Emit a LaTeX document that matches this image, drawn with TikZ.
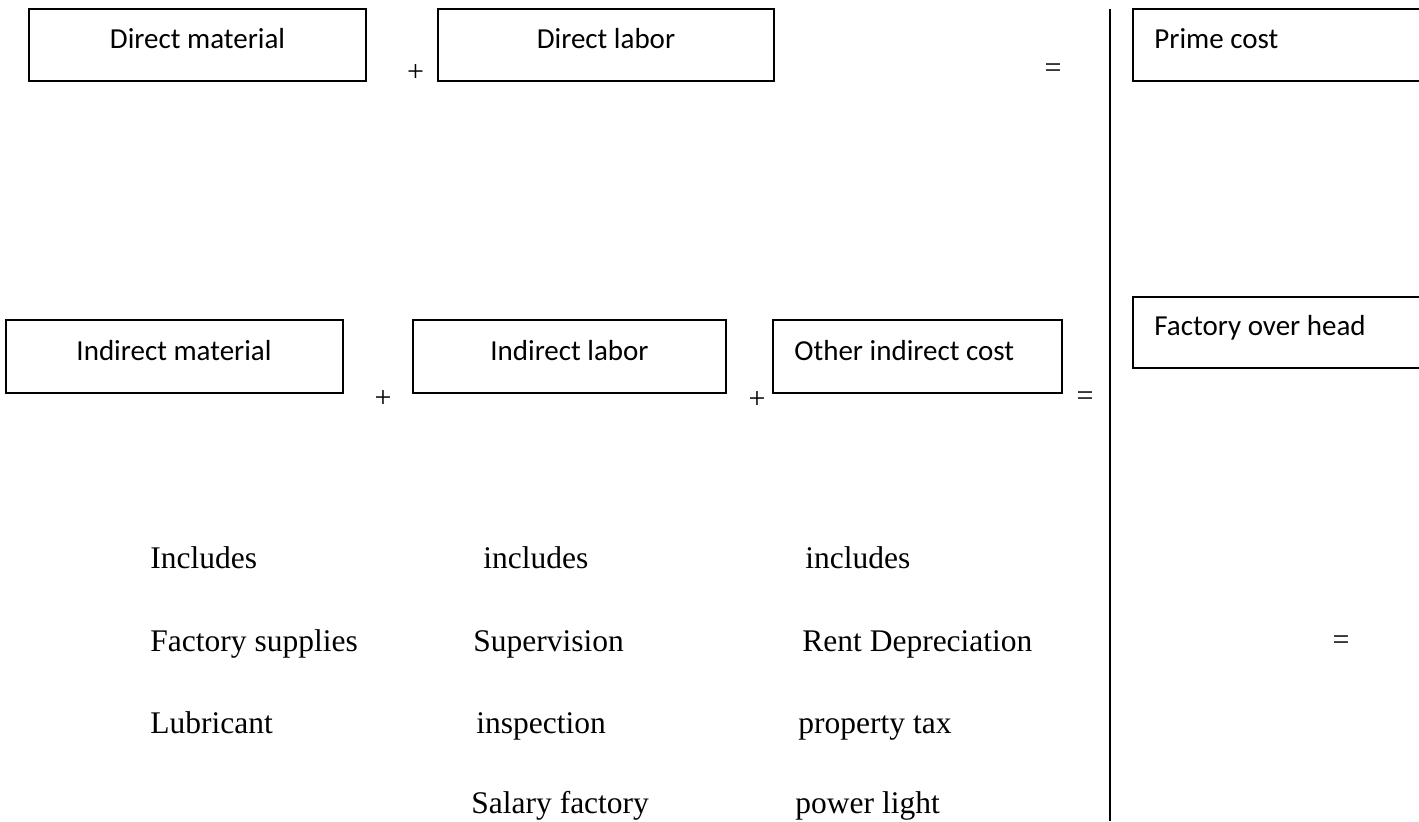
\documentclass[tikz,border=0pt]{standalone}
\usepackage{fontspec}
\setmainfont{Liberation Serif}
\newfontfamily\boxfont{Carlito}
\begin{document}
\begin{tikzpicture}[x=0.5pt,y=-0.5pt,
  box/.style={draw, line width=1pt, rectangle, inner sep=0pt, minimum height=36pt},
  boxtext/.style={font=\boxfont\fontsize{14.5}{16}\selectfont, anchor=base, inner sep=0pt},
  boxtextl/.style={font=\boxfont\fontsize{14.5}{16}\selectfont, anchor=base west, inner sep=0pt},
  item/.style={font=\fontsize{15.75}{18}\selectfont, anchor=base west, inner sep=0pt},
  op/.style={font=\fontsize{15}{18}\selectfont, inner sep=0pt}]
\useasboundingbox (0,0) rectangle (1419,821);
\clip (0,0) rectangle (1419,821);

% prime cost row
\node[box, minimum width=168.5pt] (dm) at (197.5,45) {};
\node[box, minimum width=168pt] (dl) at (606,45) {};
\node[box, minimum width=158.5pt] (pc) at (1291.5,45) {};
\node[boxtext] (dmt) at (197.5,48) {Direct material};
\node[boxtext] (dlt) at (606,48) {Direct labor};
\node[boxtextl] (pct) at (1154,48) {Prime cost};
\node[op] (p1) at (415.5,73) {+};
\node[op] (e1) at (1053,71) {=};

% factory overhead row
\node[box, minimum width=168.5pt, minimum height=36.5pt] (im) at (174,356.5) {};
\node[box, minimum width=156.5pt, minimum height=36.5pt] (il) at (569.5,356.5) {};
\node[box, minimum width=144.5pt, minimum height=36.5pt] (oc) at (917.5,356.5) {};
\node[box, minimum width=158.5pt, minimum height=35.5pt] (fo) at (1291.5,332.5) {};
\node[boxtext] (imt) at (174,360) {Indirect material};
\node[boxtext] (ilt) at (569.5,360) {Indirect labor};
\node[boxtextl] (oct) at (794,360) {Other indirect cost};
\node[boxtextl] (fot) at (1154,335) {Factory over head};
\node[op] (p2) at (383,399) {+};
\node[op] (p3) at (757,400) {+};
\node[op] (e2) at (1085,399) {=};
\node[op] (e3) at (1341,643) {=};

% divider
\coordinate (vtop) at (1110,9);
\coordinate (vbot) at (1110,821);
\draw[line width=1.2pt] (vtop) -- (vbot);

% lists of what each overhead part includes
\node[item] (a1) at (150,568) {Includes};
\node[item] (a2) at (150,651) {Factory supplies};
\node[item] (a3) at (150,733) {Lubricant};
\node[item] (b1) at (483,568) {includes};
\node[item] (b2) at (473,651) {Supervision};
\node[item] (b3) at (476,733) {inspection};
\node[item] (b4) at (471,813) {Salary factory};
\node[item] (c1) at (805,568) {includes};
\node[item] (c2) at (802,651) {Rent Depreciation};
\node[item] (c3) at (798,733) {property tax};
\node[item] (c4) at (795,813) {power light};
\end{tikzpicture}
\end{document}
